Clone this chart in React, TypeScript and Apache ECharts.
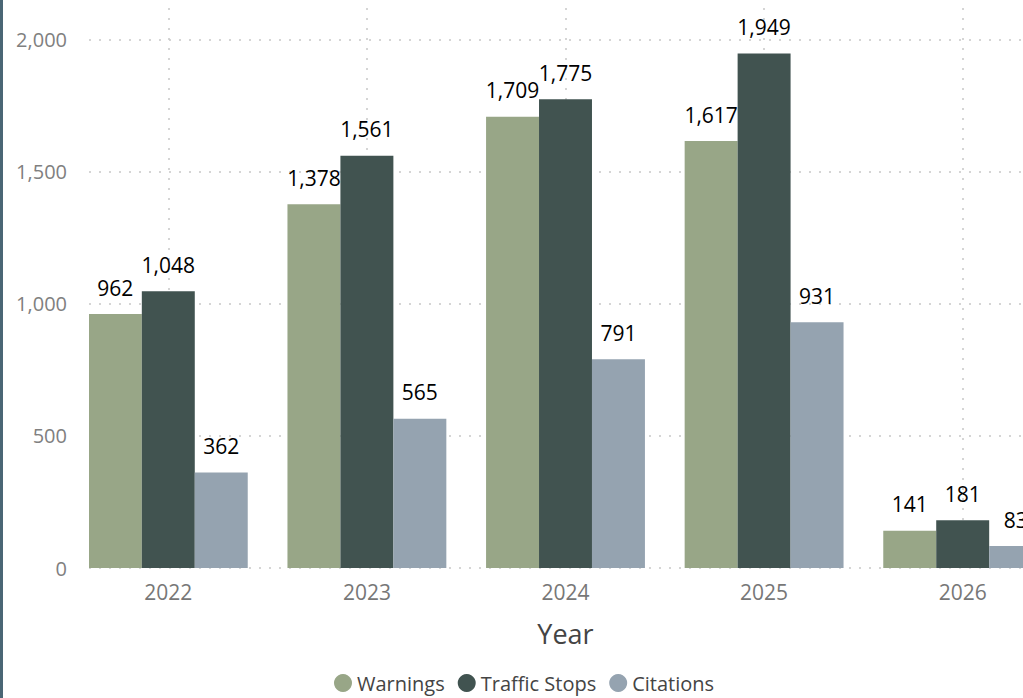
import React, { useEffect, useRef } from "react";
import * as echarts from "echarts";

const years = ["2022", "2023", "2024", "2025", "2026"];
const warnings = [962, 1378, 1709, 1617, 141];
const trafficStops = [1048, 1561, 1775, 1949, 181];
const citations = [362, 565, 791, 931, 83];
const yTicks = { min: 0, max: 2121, interval: 500 };

const FONT = "'Open Sans', 'Noto Sans', sans-serif";

export default function App() {
  const ref = useRef<HTMLDivElement>(null);
  useEffect(() => {
    document.body.style.margin = "0";
    const chart = echarts.init(ref.current!, null, { renderer: "svg" });
    const fmt = (v: number) => v.toLocaleString("en-US");
    const label = {
      show: true,
      position: "top" as const,
      distance: 16,
      color: "#000",
      fontSize: 21,
      fontFamily: FONT,
      formatter: (p: any) => fmt(p.value),
    };
    const mk = (name: string, data: number[], color: string) => ({
      name,
      type: "bar" as const,
      data,
      itemStyle: { color },
      label,
      barGap: "0%",
      barCategoryGap: "20%",
    });
    chart.setOption({
      animation: false,
      textStyle: { fontFamily: FONT },
      grid: { left: 69, right: 0, top: 8, bottom: 130, containLabel: false },
      legend: {
        left: 329,
        top: 668,
        icon: "circle",
        itemWidth: 18,
        itemHeight: 18,
        itemGap: 13,
        textStyle: { fontSize: 20, color: "#444", fontFamily: FONT },
      },
      xAxis: {
        type: "category",
        data: years,
        name: "Year",
        nameLocation: "middle",
        nameGap: 52,
        nameTextStyle: { fontSize: 27, color: "#444", fontFamily: FONT },
        axisLine: { show: false },
        axisTick: { show: false },
        axisLabel: { color: "#777", fontSize: 21, margin: 13, fontFamily: FONT },
        splitLine: {
          show: true,
          alignWithLabel: true,
          lineStyle: { color: "#c8c8c8", type: [2, 8], width: 1.5 },
        },
      },
      yAxis: {
        type: "value",
        min: yTicks.min,
        max: yTicks.max,
        interval: yTicks.interval,
        axisLine: { show: false },
        axisTick: { show: false },
        axisLabel: {
          color: "#808080",
          fontSize: 20,
          margin: 2,
          fontFamily: FONT,
          showMaxLabel: false,
          formatter: (v: number) => fmt(v),
        },
        splitLine: {
          show: true,
          showMaxLine: false,
          lineStyle: { color: "#c8c8c8", type: [2, 8], width: 1.5 },
        },
      },
      graphic: [
        {
          type: "rect",
          z: 100,
          shape: { x: 69, y: 0, width: 20, height: 575 },
          style: { fill: "#fff" },
        },
        {
          type: "rect",
          z: 100,
          shape: { x: 0, y: 0, width: 3, height: 698 },
          style: { fill: "#4A6675" },
        },
      ],
      series: [
        mk("Warnings", warnings, "#98A687"),
        mk("Traffic Stops", trafficStops, "#415350"),
        mk("Citations", citations, "#95A3B0"),
      ],
    });
    return () => chart.dispose();
  }, []);
  return (
    <div style={{ width: 1023, height: 698, overflow: "hidden", position: "relative" }}>
      <div ref={ref} style={{ width: 1062, height: 698 }} />
    </div>
  );
}
